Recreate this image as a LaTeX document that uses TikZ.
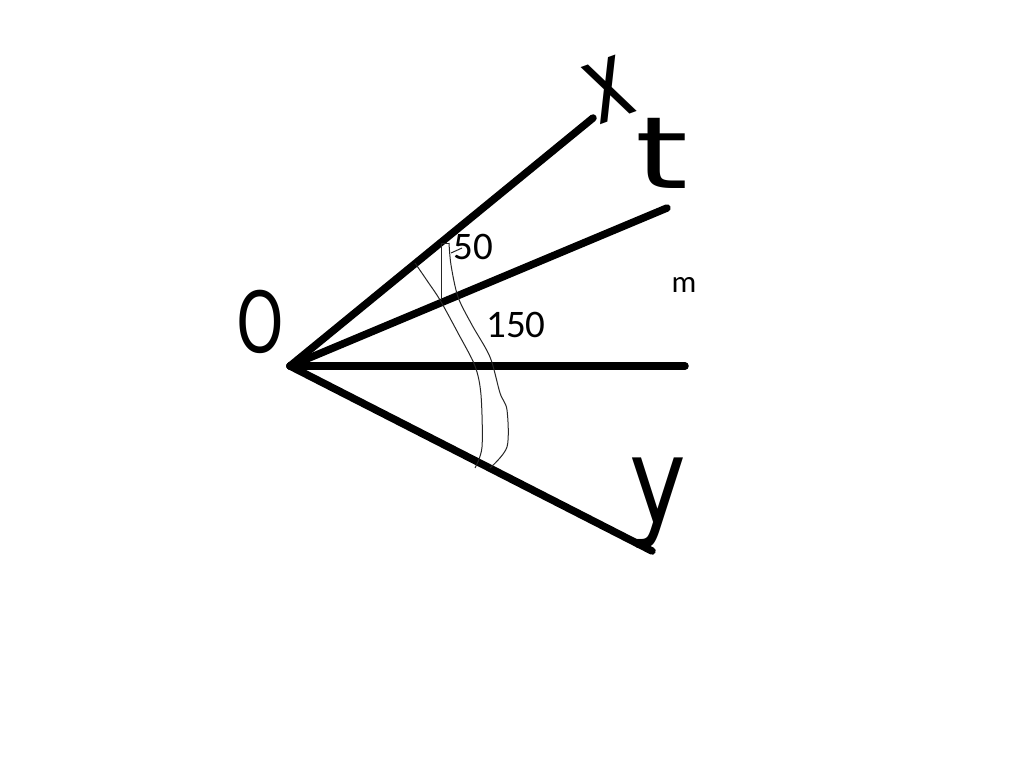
\documentclass[tikz,border=0pt]{standalone}
\usepackage{fontspec}
\newfontfamily\carl{Carlito}
\newfontfamily\djs{DejaVu Sans}
\begin{document}
\begin{tikzpicture}[x=1pt,y=-1pt,
  ray/.style={line width=7.5pt,line cap=round,line join=round,black},
  thin/.style={line width=1pt,black!85},
  hand/.style={inner sep=0pt,font=\djs},
  numlbl/.style={inner sep=0pt,font=\carl\fontsize{39}{39}\selectfont}]
\useasboundingbox[fill=white] (0,0) rectangle (1024,767);
% vertex and ray ends
\coordinate (O) at (290,366);
\coordinate (xe) at (593,118);
\coordinate (te) at (667,208);
\coordinate (me) at (685,366);
\coordinate (ye) at (652,551);
\draw[ray] (O) -- (xe);
\draw[ray] (O) -- (te);
\draw[ray] (O) -- (me);
\draw[ray] (O) -- (ye);
% handwritten letters
\node[hand,font=\djs\fontsize{84}{84}\selectfont,xscale=0.72] (lO) at (260,322) {O};
\node[hand,font=\djs\fontsize{92}{92}\selectfont,rotate=20,yscale=1.2,xscale=0.8] (lx) at (609,90) {x};
\node[hand,font=\djs\fontsize{100}{100}\selectfont,xscale=1.35] (lt) at (662,153) {t};
\node[hand,font=\djs\fontsize{120}{120}\selectfont,xscale=0.8] (ly) at (658,503) {y};
% angle marks
\draw[thin] plot[smooth,tension=0.5] coordinates {(415,263) (428,282) (440,300) (458,333) (475,366) (481,395) (482,447) (475,468)};
\draw[thin] (441,300) -- (441,243) -- (449,243);
\draw[thin] plot[smooth,tension=0.5] coordinates {(449,243) (451,265) (458,297) (472,325) (490,357) (500,393) (507,410) (507,447) (490,468)};
\draw[thin] (451,253) -- (462,248);
% labels
\node[numlbl] (l50) at (473,247) {50};
\node[numlbl] (l150) at (516,325) {150};
\node[inner sep=0pt,font=\carl\fontsize{31}{31}\selectfont] (lm) at (684,285) {m};
\end{tikzpicture}
\end{document}
